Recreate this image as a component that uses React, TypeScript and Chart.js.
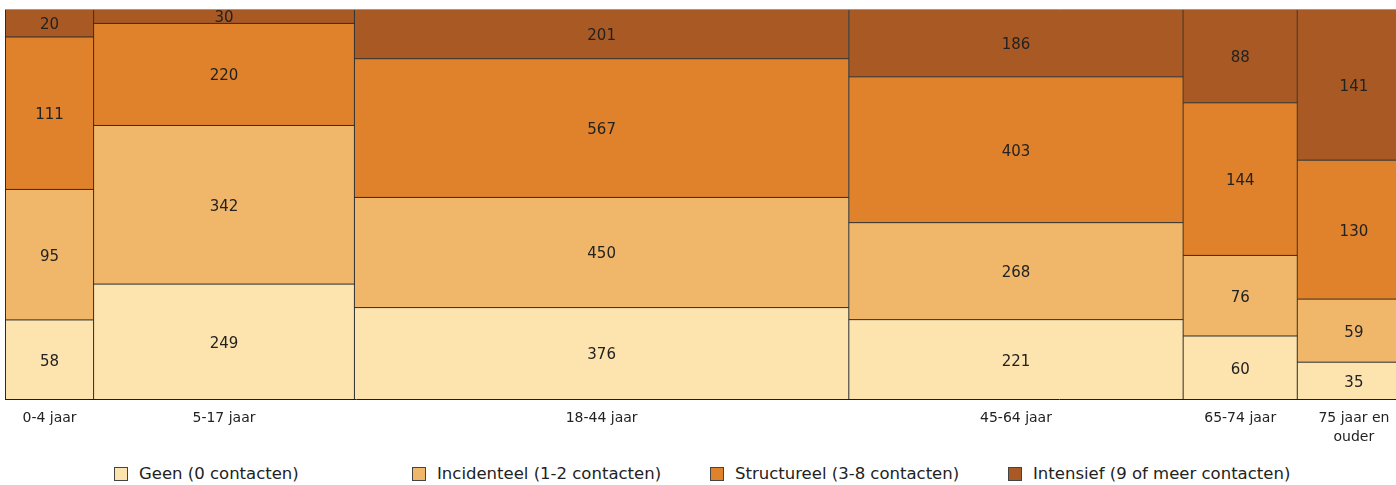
import React, { useEffect, useRef } from 'react';
import { Chart, registerables } from 'chart.js';

Chart.register(...registerables);

// ---- Data ----
const ageGroups = ['0-4 jaar', '5-17 jaar', '18-44 jaar', '45-64 jaar', '65-74 jaar', '75 jaar en ouder'];
const tickLabels: string[][] = [['0-4 jaar'], ['5-17 jaar'], ['18-44 jaar'], ['45-64 jaar'], ['65-74 jaar'], ['75 jaar en', 'ouder']];
const seriesNames = ['Geen (0 contacten)', 'Incidenteel (1-2 contacten)', 'Structureel (3-8 contacten)', 'Intensief (9 of meer contacten)'];
const geen = [58, 249, 376, 221, 60, 35];
const incidenteel = [95, 342, 450, 268, 76, 59];
const structureel = [111, 220, 567, 403, 144, 130];
const intensief = [20, 30, 201, 186, 88, 141];
const seriesColors = ['#FDE3AE', '#F0B76A', '#E0822B', '#A95A24'];

const FONT = '"DejaVu Sans", "Noto Sans", sans-serif';

type Rect = { x0: number; x1: number; y0: number; y1: number; value: number; series: number; col: number };

function buildRects() {
  const series = [geen, incidenteel, structureel, intensief];
  const totals = ageGroups.map((_, i) => series.reduce((s, arr) => s + arr[i], 0));
  const rects: Rect[] = [];
  const starts: number[] = [];
  let xCum = 0;
  totals.forEach((t, i) => {
    starts.push(xCum);
    let yCum = 0;
    series.forEach((arr, s) => {
      const share = arr[i] / t;
      rects.push({ x0: xCum, x1: xCum + t, y0: yCum, y1: yCum + share, value: arr[i], series: s, col: i });
      yCum += share;
    });
    xCum += t;
  });
  return { rects, totals, starts, grand: xCum };
}

const valueLabelPlugin = {
  id: 'valueLabels',
  afterDatasetsDraw(chart: any) {
    const { rects } = buildRects();
    const { ctx, scales } = chart;
    ctx.save();
    ctx.font = `15px ${FONT}`;
    ctx.fillStyle = '#222222';
    ctx.textAlign = 'center';
    ctx.textBaseline = 'middle';
    rects.forEach((r) => {
      const cx = scales.x.getPixelForValue((r.x0 + r.x1) / 2);
      const cy = scales.y.getPixelForValue((r.y0 + r.y1) / 2);
      ctx.fillText(String(r.value), cx, cy + 2);
    });
    ctx.restore();
  },
};

export default function App() {
  const canvasRef = useRef<HTMLCanvasElement | null>(null);

  useEffect(() => {
    if (!canvasRef.current) return;
    const { rects, totals, starts, grand } = buildRects();
    const centers = starts.map((s, i) => s + totals[i] / 2);

    const datasets: any[] = [];
    // fills
    rects.forEach((r) => {
      datasets.push({
        data: [{ x: r.x0, y: r.y1 }, { x: r.x1, y: r.y1 }],
        backgroundColor: seriesColors[r.series],
        borderWidth: 0,
        borderColor: 'transparent',
        pointRadius: 0,
        fill: { value: r.y0 },
        order: 2,
      });
    });
    // horizontal internal edges
    rects.forEach((r) => {
      if (r.series === 3) return;
      datasets.push({
        data: [{ x: r.x0, y: r.y1 }, { x: r.x1, y: r.y1 }],
        borderColor: '#2b2b2b',
        borderWidth: 1,
        pointRadius: 0,
        fill: false,
        clip: false,
        order: 1,
      });
    });
    // vertical column edges
    starts.forEach((s) => {
      datasets.push({
        data: [{ x: s, y: 0 }, { x: s, y: 1 }],
        borderColor: '#2b2b2b',
        borderWidth: 1,
        pointRadius: 0,
        fill: false,
        clip: false,
        order: 1,
      });
    });
    // top line
    datasets.push({
      data: [{ x: 0, y: 1 }, { x: grand, y: 1 }],
      borderColor: '#9a9a9a',
      borderWidth: 1,
      pointRadius: 0,
      fill: false,
      clip: false,
      order: 0,
    });

    const chart = new Chart(canvasRef.current, {
      type: 'line',
      data: { datasets },
      options: {
        animation: false,
        responsive: true,
        maintainAspectRatio: false,
        layout: { padding: { left: 5.5, right: 9.5, top: 9.5, bottom: 0 } },
        plugins: { legend: { display: false }, tooltip: { enabled: false } },
        elements: { line: { tension: 0 } },
        scales: {
          x: {
            type: 'linear',
            min: 0,
            max: grand,
            grid: { display: false, drawTicks: false },
            border: { display: true, color: '#000000', width: 1 },
            afterBuildTicks: (axis: any) => {
              axis.ticks = centers.map((v) => ({ value: v }));
            },
            ticks: {
              autoSkip: false,
              maxRotation: 0,
              padding: 10,
              color: '#222222',
              font: { family: FONT, size: 14, lineHeight: 1.3 },
              callback: (_v: any, i: number) => tickLabels[i],
            },
          },
          y: { type: 'linear', min: 0, max: 1, display: false },
        },
      },
      plugins: [valueLabelPlugin],
    } as any);
    return () => chart.destroy();
  }, []);

  return (
    <div style={{ position: 'absolute', left: 0, top: 0, width: 1396, height: 485, overflow: 'hidden', background: '#fff' }}>
      <div style={{ position: 'absolute', left: 0, top: 0, width: 1420, height: 456 }}>
        <canvas ref={canvasRef} />
      </div>
      <div style={{ position: 'absolute', left: 114, top: 464, display: 'flex', fontFamily: FONT, fontSize: 16.5, color: '#222', lineHeight: '20px' }}>
        {seriesNames.map((name, i) => (
          <div key={name} style={{ width: 298, display: 'flex', alignItems: 'center' }}>
            <span style={{ display: 'inline-block', width: 12, height: 12, background: seriesColors[i], border: '1px solid #444', marginRight: 11 }} />
            <span>{name}</span>
          </div>
        ))}
      </div>
    </div>
  );
}
